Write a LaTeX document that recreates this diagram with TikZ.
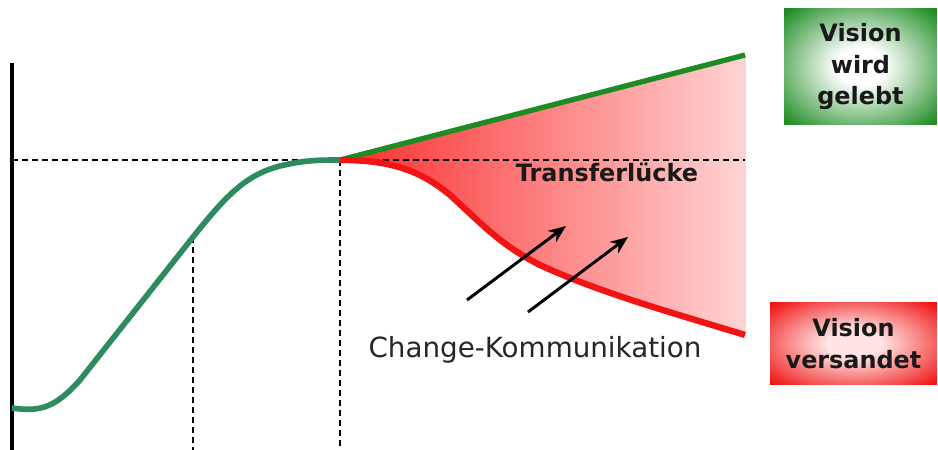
\documentclass[tikz,border=0pt]{standalone}
\usepackage{fontspec}
\setmainfont{DejaVu Sans}
\usetikzlibrary{arrows.meta}
\definecolor{lebtgreen}{RGB}{30,140,35}
\definecolor{sgreen}{RGB}{46,139,95}
\definecolor{versred}{RGB}{240,20,20}
\definecolor{gapred}{RGB}{250,45,45}
\definecolor{gappink}{RGB}{255,212,212}
\pgfdeclareradialshading{greenglow}{\pgfpointorigin}{color(0bp)=(white); color(8bp)=(white); color(34bp)=(lebtgreen); color(100bp)=(lebtgreen)}
\pgfdeclareradialshading{redglow}{\pgfpointorigin}{color(0bp)=(white!90!red); color(8bp)=(white!90!red); color(34bp)=(versred); color(100bp)=(versred)}
\tikzset{
  guide/.style={dash pattern=on 3.4pt off 2.3pt, line width=0.6pt},
  outcome/.style={shade, align=center, text=black!90, font=\bfseries\fontsize{13.6}{18.2}\selectfont},
}
\begin{document}
\begin{tikzpicture}[x=0.02cm, y=-0.02cm, >={Stealth[length=10pt, width=8pt]}]
  \useasboundingbox (0,0) rectangle (938,450);
  \coordinate (top) at (340,160);
  \coordinate (up) at (745,55);
  \coordinate (down) at (745,335);
  \fill[left color=gapred, right color=gappink] (top) -- (up) -- (down) .. controls (680,315) and (600,293) .. (540,265) .. controls (500,245) and (480,222) .. (450,195) .. controls (420,170) and (390,160) .. (top) -- cycle;
  \draw[line width=1.8pt] (12,63) -- (12,450);
  \draw[guide] (12,160) -- (745,160);
  \draw[guide] (193,237) -- (193,450);
  \draw[guide] (top) -- (340,450);
  \draw[sgreen, line width=3.2pt] (12,408) .. controls (40,412) and (55,408) .. (80,380) -- (193,237) .. controls (225,197) and (245,175) .. (280,166) .. controls (305,160) and (320,160) .. (top);
  \draw[lebtgreen, line width=3pt] (top) -- (up);
  \draw[versred, line width=3.6pt] (top) .. controls (390,160) and (420,170) .. (450,195) .. controls (480,222) and (500,245) .. (540,265) .. controls (600,293) and (680,315) .. (down);
  \coordinate (a1s) at (467,300);
  \coordinate (a1e) at (566,226);
  \coordinate (a2s) at (528,312);
  \coordinate (a2e) at (628,237);
  \draw[->, line width=1.7pt] (a1s) -- (a1e);
  \draw[->, line width=1.7pt] (a2s) -- (a2e);
  \node[font=\bfseries\fontsize{13.6}{16}\selectfont, text=black!90] (gap) at (607,172) {Transferlücke};
  \node[font=\fontsize{15.8}{19}\selectfont, text=black!85] (comm) at (535,350) {Change-Kommunikation};
  \node[outcome, shading=greenglow, minimum width=3.06cm, minimum height=2.34cm] (lived) at (860.5,66.5) {Vision\\wird\\gelebt};
  \node[outcome, shading=redglow, minimum width=3.34cm, minimum height=1.66cm] (lost) at (853.5,343.5) {Vision\\versandet};
\end{tikzpicture}
\end{document}
